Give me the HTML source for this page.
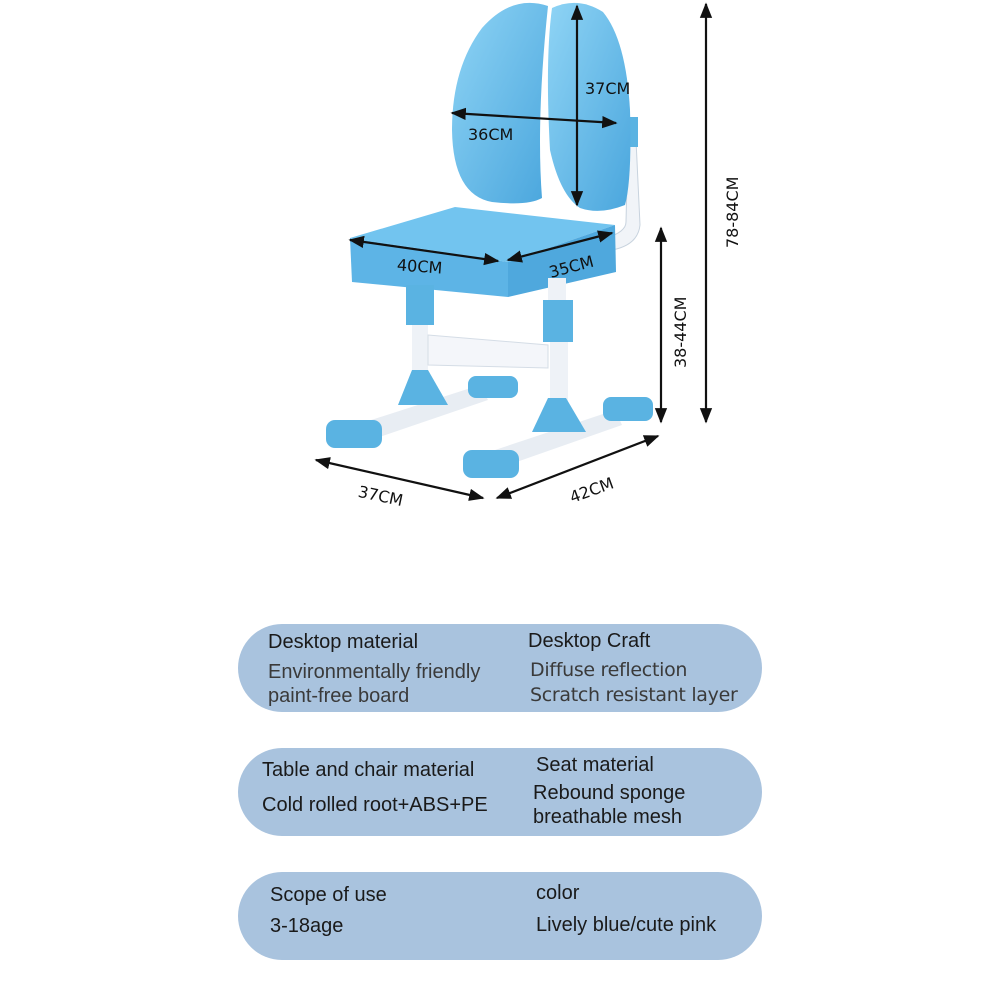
<!DOCTYPE html>
<html><head><style>
body{margin:0;width:1000px;height:1000px;background:#fff;font-family:"Liberation Sans","DejaVu Sans",sans-serif;position:relative;overflow:hidden}
.p{position:absolute;left:238px;width:524px;height:88px;border-radius:44px;background:#a9c3de}
.t{position:absolute;font-size:20px;color:#1a1a1a;white-space:nowrap}
.s{color:#3a3a3a}
.w{font-family:"DejaVu Sans","Liberation Sans",sans-serif;font-size:19px;letter-spacing:-0.3px}
</style></head><body>
<svg width="1000" height="560" style="position:absolute;left:0;top:0" font-family="DejaVu Sans, Liberation Sans, sans-serif">
<defs>
<marker id="a" viewBox="0 0 10 10" refX="9" refY="5" markerWidth="7" markerHeight="7" orient="auto-start-reverse"><path d="M0,1L10,5L0,9z" fill="#111"/></marker>
<linearGradient id="b" x1="0" y1="0" x2="1" y2="1"><stop offset="0" stop-color="#8fd4f5"/><stop offset="1" stop-color="#4aa6dd"/></linearGradient>
</defs>
<path d="M628,140 L636,140 L640,225 Q638,245 612,250 L606,238 Q626,232 626,222z" fill="#f1f4f8" stroke="#c8d3de"/>
<rect x="628" y="117" width="10" height="30" fill="#5ab3e2"/>
<path d="M548,6 Q512,-6 482,28 Q452,68 452,130 Q453,195 492,202 Q528,206 542,198 Q536,120 548,6z" fill="url(#b)"/>
<path d="M552,8 Q578,-4 603,12 Q626,40 630,110 Q632,180 625,205 Q600,215 580,208 Q560,195 550,150 Q545,60 552,8z" fill="url(#b)"/>
<path d="M350,238 L455,207 L615,225 L508,262z" fill="#72c4ef"/>
<path d="M350,238 L508,262 L508,297 L352,282z" fill="#5db4e6"/>
<path d="M508,262 L615,225 L616,272 L508,297z" fill="#4fa8dd"/>
<rect x="406" y="285" width="28" height="40" fill="#5ab3e2"/>
<rect x="412" y="325" width="16" height="75" fill="#eef2f7"/>
<rect x="548" y="278" width="18" height="25" fill="#eef2f7"/>
<rect x="543" y="300" width="30" height="42" fill="#5ab3e2"/>
<rect x="550" y="342" width="18" height="65" fill="#eef2f7"/>
<path d="M428,335 L548,345 L548,368 L428,365z" fill="#f4f6fa" stroke="#d5dde6"/>
<path d="M340,430 L480,385 L488,400 L350,447z" fill="#e8edf3"/>
<path d="M480,455 L615,410 L622,425 L488,472z" fill="#e8edf3"/>
<path d="M398,405 L412,370 L428,370 L448,405z" fill="#5ab3e2"/>
<path d="M532,432 L548,398 L566,398 L586,432z" fill="#5ab3e2"/>
<rect x="326" y="420" width="56" height="28" rx="9" fill="#5ab3e2"/>
<rect x="463" y="450" width="56" height="28" rx="9" fill="#5ab3e2"/>
<rect x="468" y="376" width="50" height="22" rx="8" fill="#5ab3e2"/>
<rect x="603" y="397" width="50" height="24" rx="8" fill="#5ab3e2"/>
<g stroke="#111" stroke-width="2.2" fill="none">
<line x1="577" y1="6" x2="577" y2="205" marker-start="url(#a)" marker-end="url(#a)"/>
<line x1="452" y1="113" x2="616" y2="123" marker-start="url(#a)" marker-end="url(#a)"/>
<line x1="350" y1="240" x2="498" y2="261" marker-start="url(#a)" marker-end="url(#a)"/>
<line x1="508" y1="260" x2="612" y2="233" marker-start="url(#a)" marker-end="url(#a)"/>
<line x1="706" y1="4" x2="706" y2="422" marker-start="url(#a)" marker-end="url(#a)"/>
<line x1="661" y1="228" x2="661" y2="422" marker-start="url(#a)" marker-end="url(#a)"/>
<line x1="316" y1="460" x2="483" y2="498" marker-start="url(#a)" marker-end="url(#a)"/>
<line x1="497" y1="498" x2="658" y2="436" marker-start="url(#a)" marker-end="url(#a)"/>
</g>
<g fill="#111" font-size="16">
<text x="585" y="94">37CM</text>
<text x="468" y="140">36CM</text>
<text x="397" y="272" transform="rotate(4 420 266)">40CM</text>
<text x="548" y="272" transform="rotate(-15 572 264)">35CM</text>
<text x="358" y="502" transform="rotate(12 383 496)">37CM</text>
<text x="568" y="495" transform="rotate(-20 593 487)">42CM</text>
<text transform="translate(738 248) rotate(-90)">78-84CM</text>
<text transform="translate(686 368) rotate(-90)">38-44CM</text>
</g>
</svg>

<div class="p" style="top:624px"></div>
<div class="t" style="left:268px;top:631px">Desktop material</div>
<div class="t s" style="left:268px;top:661px">Environmentally friendly</div>
<div class="t s" style="left:268px;top:685px">paint-free board</div>
<div class="t" style="left:528px;top:630px">Desktop Craft</div>
<div class="t s w" style="left:530px;top:659px">Diffuse reflection</div>
<div class="t s w" style="left:530px;top:684px">Scratch resistant layer</div>

<div class="p" style="top:748px"></div>
<div class="t" style="left:262px;top:759px">Table and chair material</div>
<div class="t" style="left:262px;top:794px">Cold rolled root+ABS+PE</div>
<div class="t" style="left:536px;top:754px">Seat material</div>
<div class="t" style="left:533px;top:782px">Rebound sponge</div>
<div class="t" style="left:533px;top:806px">breathable mesh</div>

<div class="p" style="top:872px"></div>
<div class="t" style="left:270px;top:884px">Scope of use</div>
<div class="t" style="left:270px;top:915px">3-18age</div>
<div class="t" style="left:536px;top:882px">color</div>
<div class="t" style="left:536px;top:914px">Lively blue/cute pink</div>
</body></html>
